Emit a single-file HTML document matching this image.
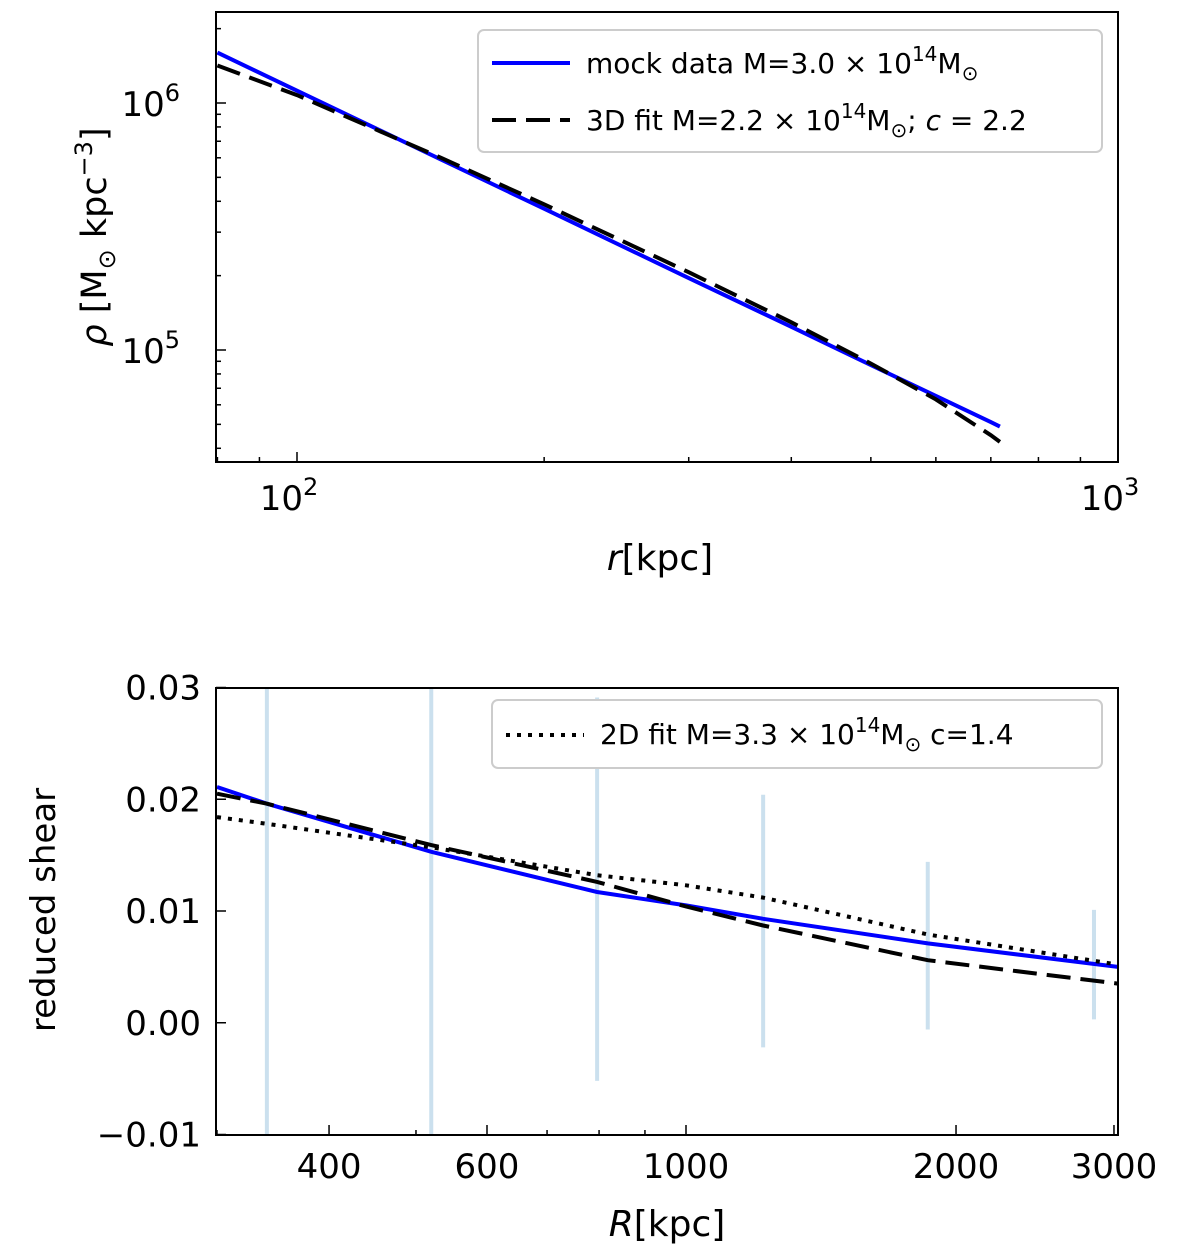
<!DOCTYPE html>
<html><head><meta charset="utf-8"><style>
body{margin:0;background:#fff}
svg text{font-family:"DejaVu Sans","Liberation Sans",sans-serif;fill:#000}
</style></head><body>
<svg id="c" width="1200" height="1255" viewBox="0 0 1200 1255"></svg>
<script>
// Top panel data
const topRadii=[80,100,150,200,300,400,500,600,700,718];
const mockLogRho=[6.204,6.050,5.770,5.572,5.291,5.094,4.939,4.814,4.708,4.690];
const fit3dLogRho=[6.152,6.032,5.777,5.590,5.315,5.112,4.945,4.800,4.655,4.628];
const topXTicks=[100,1000];
const topXTickLabels=["10","10"];
const topYTicks=[5,6];
// Bottom panel data
const botRadii=[300,341,520,796,1000,1219,1860,3030];
const mockShear=[0.0211,0.0196,0.0153,0.0117,0.0105,0.0093,0.0071,0.0050];
const fit3dShear=[0.0205,0.0196,0.0159,0.0126,0.0104,0.0087,0.0056,0.0035];
const fit2dShear=[0.0184,0.0178,0.0157,0.0132,0.0123,0.0112,0.0079,0.0052];
const errR=[341,520,796,1219,1860,2850];
const errLo=[-0.02,-0.02,-0.0052,-0.0022,-0.0006,0.0003];
const errHi=[0.04,0.04,0.0291,0.0204,0.0144,0.0101];
const botXTicks=[400,600,1000,2000,3000];
const botYTicks=[-0.01,0,0.01,0.02,0.03];
const botYTickLabels=["\u22120.01","0.00","0.01","0.02","0.03"];

const NS="http://www.w3.org/2000/svg";
const svg=document.getElementById('c');
function el(t,a,p){const e=document.createElementNS(NS,t);for(const k in a)e.setAttribute(k,a[k]);(p||svg).appendChild(e);return e;}

const T={x0:216,x1:1118,y0:12,y1:462};
const tx=r=>297+821*Math.log10(r/100);
const ty=l=>103-247*(l-6);
const B={x0:216,x1:1118,y0:688,y1:1135};
const bx=r=>686+897*Math.log10(r/1000);
const by=v=>911-11175*(v-0.01);

const defs=el('defs',{});
const cp1=el('clipPath',{id:'cp1'},defs);el('rect',{x:T.x0,y:T.y0,width:T.x1-T.x0,height:T.y1-T.y0},cp1);
const cp2=el('clipPath',{id:'cp2'},defs);el('rect',{x:B.x0,y:B.y0,width:B.x1-B.x0,height:B.y1-B.y0},cp2);

function line(xs,ys,fx,fy,style,name,clip){
  const d=xs.map((x,i)=>(i?'L':'M')+fx(x).toFixed(1)+','+fy(ys[i]).toFixed(1)).join(' ');
  const p=el('path',Object.assign({d:d,fill:'none','clip-path':'url(#'+clip+')'},style));
  
  
}
const DASH={stroke:'#000','stroke-width':4,'stroke-dasharray':'24,10'};
const DOT={stroke:'#000','stroke-width':4,'stroke-dasharray':'4,7'};
// ---- top panel
line(topRadii,mockLogRho,tx,ty,{stroke:'#0000ff','stroke-width':4},'mock-data-line','cp1');
line(topRadii,fit3dLogRho,tx,ty,DASH,'fit-3d-line','cp1');
for(let d=1;d<=3;d++){for(let m=1;m<10;m++){const r=m*Math.pow(10,d);const x=tx(r);if(x<T.x0||x>T.x1+1)continue;
  const len=m===1?10:5;el('line',{x1:x,x2:x,y1:T.y1,y2:T.y1-len,stroke:'#000','stroke-width':1.5});}}
topXTicks.forEach((r,i)=>{const t=el('text',{x:tx(r)-8,y:510,'font-size':34,'text-anchor':'middle'});t.textContent=topXTickLabels[i];
  const s=el('tspan',{dy:-15,'font-size':24},t);s.textContent=String(Math.log10(r));
  });
for(let d=4;d<=6;d++){for(let m=1;m<10;m++){const l=d+Math.log10(m);const y=ty(l);if(y<T.y0||y>T.y1)continue;
  const len=m===1?10:5;el('line',{x1:T.x0,x2:T.x0+len,y1:y,y2:y,stroke:'#000','stroke-width':1.5});}}
topYTicks.forEach(l=>{const t=el('text',{x:180,y:ty(l)+13,'font-size':34,'text-anchor':'end'});t.textContent='10';
  const s=el('tspan',{dy:-15,'font-size':24},t);s.textContent=String(l);
  });
el('rect',{x:T.x0,y:T.y0,width:T.x1-T.x0,height:T.y1-T.y0,fill:'none',stroke:'#000','stroke-width':2});
let t=el('text',{x:660,y:570,'font-size':36,'text-anchor':'middle'});
t.innerHTML='<tspan font-style="italic">r</tspan>[kpc]';

t=el('text',{x:0,y:0,'font-size':35,'text-anchor':'middle',transform:'translate(106,237) rotate(-90)'});
t.innerHTML='<tspan font-style="italic">ρ</tspan> [M<tspan font-size="24" dy="9">⊙</tspan><tspan dy="-9"> kpc</tspan><tspan font-size="24" dy="-14">−3</tspan><tspan dy="14">]</tspan>';

const lg=el('g',{});


el('rect',{x:478,y:30,width:624,height:122,rx:6,fill:'#fff',stroke:'#ccc','stroke-width':2},lg);
el('line',{x1:492,x2:570,y1:63,y2:63,stroke:'#0000ff','stroke-width':4},lg);
el('line',Object.assign({x1:492,x2:570,y1:120,y2:120},DASH),lg);
t=el('text',{x:586,y:73,'font-size':28},lg);
t.innerHTML='mock data M=3.0 × 10<tspan font-size="20" dy="-12">14</tspan><tspan dy="12">M</tspan><tspan font-size="20" dy="7">⊙</tspan>';
t=el('text',{x:586,y:130,'font-size':28},lg);
t.innerHTML='3D fit M=2.2 × 10<tspan font-size="20" dy="-12">14</tspan><tspan dy="12">M</tspan><tspan font-size="20" dy="7">⊙</tspan><tspan dy="-7">; </tspan><tspan font-style="italic">c</tspan> = 2.2';

// ---- bottom panel
errR.forEach((r,i)=>{const x=bx(r);const l=el('line',{x1:x,x2:x,y1:by(errHi[i]),y2:by(errLo[i]),stroke:'#a9cce3','stroke-opacity':0.6,'stroke-width':4,'clip-path':'url(#cp2)'});
  });
line(botRadii,mockShear,bx,by,{stroke:'#0000ff','stroke-width':4},'mock-shear-line','cp2');
line(botRadii,fit3dShear,bx,by,DASH,'fit-3d-shear-line','cp2');
line(botRadii,fit2dShear,bx,by,DOT,'fit-2d-shear-line','cp2');
const minor=[300,400,500,600,700,800,900,1000,2000,3000];
minor.forEach(r=>{const x=bx(r);if(x<B.x0)return;const major=botXTicks.includes(r);
  el('line',{x1:x,x2:x,y1:B.y1,y2:B.y1-(major?10:5),stroke:'#000','stroke-width':1.5});});
botXTicks.forEach(r=>{const t=el('text',{x:bx(r),y:1178,'font-size':34,'text-anchor':'middle'});t.textContent=String(r);
  });
botYTicks.forEach((v,i)=>{const y=by(v);el('line',{x1:B.x0,x2:B.x0+10,y1:y,y2:y,stroke:'#000','stroke-width':1.5});
  const t=el('text',{x:201,y:y+12,'font-size':34,'text-anchor':'end'});t.textContent=botYTickLabels[i];
  });
el('rect',{x:B.x0,y:B.y0,width:B.x1-B.x0,height:B.y1-B.y0,fill:'none',stroke:'#000','stroke-width':2});
t=el('text',{x:667,y:1236,'font-size':36,'text-anchor':'middle'});
t.innerHTML='<tspan font-style="italic">R</tspan>[kpc]';

t=el('text',{x:0,y:0,'font-size':34,'text-anchor':'middle',transform:'translate(55,910) rotate(-90)'});
t.textContent='reduced shear';

const lg2=el('g',{});


el('rect',{x:492,y:700,width:610,height:68,rx:6,fill:'#fff',stroke:'#ccc','stroke-width':2},lg2);
el('line',Object.assign({x1:506,x2:584,y1:735,y2:735},DOT),lg2);
t=el('text',{x:600,y:744,'font-size':28},lg2);
t.innerHTML='2D fit  M=3.3 × 10<tspan font-size="20" dy="-12">14</tspan><tspan dy="12">M</tspan><tspan font-size="20" dy="7">⊙</tspan><tspan dy="-7"> c=1.4</tspan>';
</script>
</body></html>
